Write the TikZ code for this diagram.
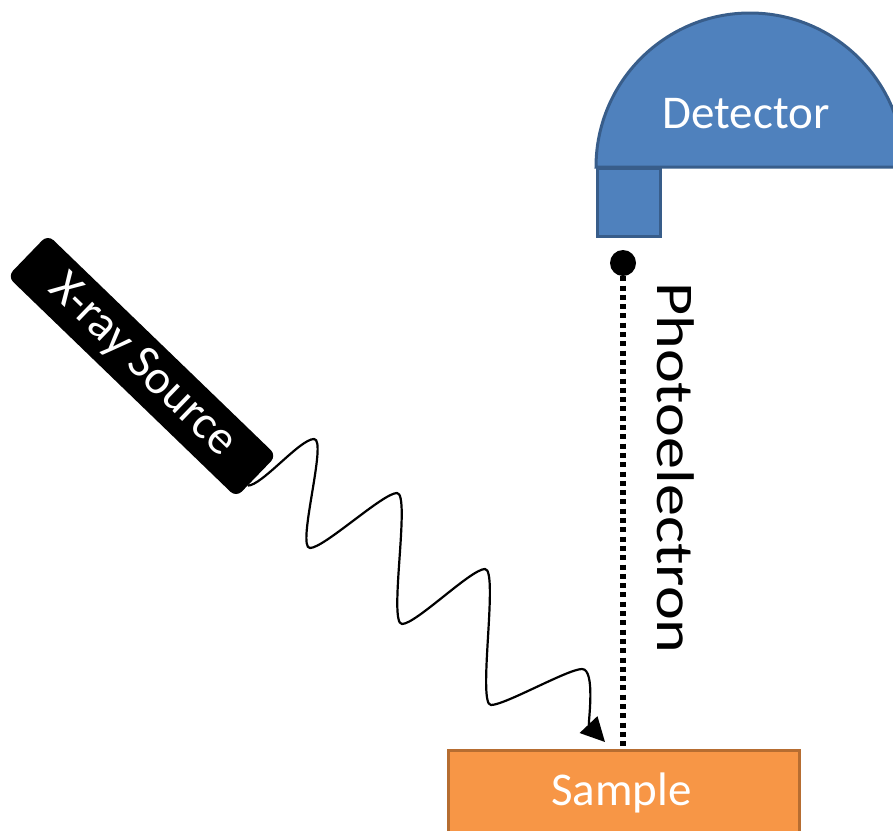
\documentclass[tikz,border=0pt]{standalone}
\usepackage{fontspec}
\setmainfont{Carlito}
\usetikzlibrary{calc,arrows.meta}
\definecolor{detfill}{HTML}{4F81BD}
\definecolor{detline}{HTML}{385D8A}
\definecolor{samfill}{HTML}{F79646}
\definecolor{samline}{HTML}{B66D31}
\begin{document}
\begin{tikzpicture}[x=1pt,y=-1pt,
  lbl/.style={text=white, font=\fontsize{47}{56}\selectfont, inner sep=0pt},
  detshape/.style={draw=detline, fill=detfill, line width=3pt},
  samshape/.style={draw=samline, fill=samfill, line width=3pt},
  srcbox/.style={fill=black, text=white, rounded corners=8pt, minimum width=318pt,
    minimum height=58pt, inner sep=0pt, font=\fontsize{48}{56}\selectfont},
  eline/.style={line width=5.5pt, dash pattern=on 5pt off 4.3pt},
  wave/.style={line width=2.2pt, -{Triangle[length=24pt,width=24pt]}}]
\useasboundingbox (0,0) rectangle (893,830);
\begin{scope}
\clip (0,0) rectangle (893,830);
% detector
\draw[detshape] (596,167) arc[start angle=180, end angle=0, x radius=154pt, y radius=154pt] -- cycle;
\node[detshape, minimum width=63pt, minimum height=68pt, inner sep=0pt, anchor=north west] (neck) at (596,167) {};
\node[lbl, anchor=base] (dettext) at (746,128) {Detector};
% sample
\node[samshape, minimum width=351pt, minimum height=120pt, inner sep=0pt, anchor=north west] (sample) at (447,749) {};
\node[lbl, anchor=base] (samtext) at (621.5,805) {Sample};
% x-ray source
\node[srcbox, rotate=-44] (src) at (142,366) {X-ray Source};
% photoelectron
\node[circle, fill=black, minimum size=26pt, inner sep=0pt] (el) at (623,263) {};
\draw[eline] (el.south) -- (el |- sample.north);
\node[rotate=-90, anchor=base west, inner sep=0pt, font=\fontsize{53}{64}\selectfont] (pe) at (657,282) {\scalebox{1.21}[1]{Photoelectron}};
% x-ray wave
\coordinate (w0) at ($(src.east)!0.43!(src.south east)$);
\coordinate (wend) at (605,742);
\draw[wave] (w0) .. controls +(14,0) and +(-14,0) .. (314,439)
  .. controls +(14,0) and +(-14,0) .. (310,548)
  .. controls +(14,0) and +(-14,0) .. (397,493)
  .. controls +(14,0) and +(-14,0) .. (402,624)
  .. controls +(14,0) and +(-14,0) .. (485,569)
  .. controls +(14,0) and +(-14,0) .. (491,705)
  .. controls +(14,0) and +(-14,0) .. (582,669)
  .. controls +(14,0) and +(-17,-18) .. (wend);
\end{scope}
\end{tikzpicture}
\end{document}
